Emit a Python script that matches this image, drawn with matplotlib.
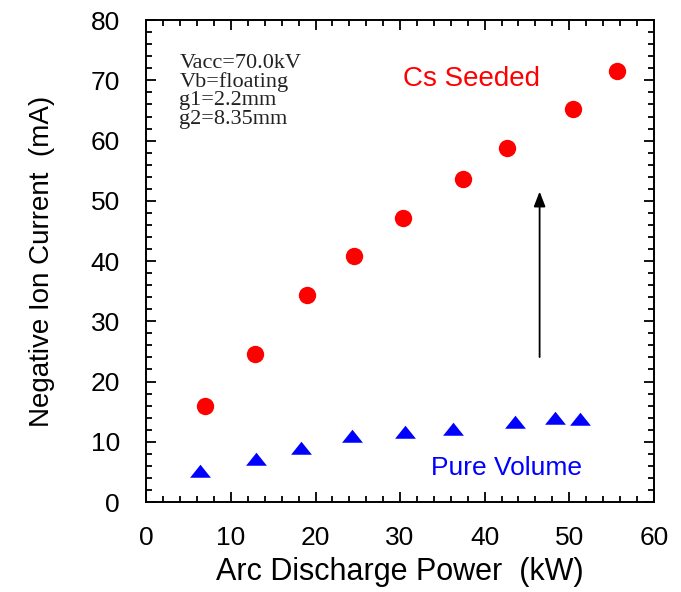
import matplotlib.pyplot as plt
from matplotlib.ticker import MultipleLocator

# Cs seeded operation
cs_power = [6.9, 12.9, 19.0, 24.6, 30.3, 37.4, 42.7, 50.4, 55.7]
cs_current = [16.0, 24.5, 34.4, 40.9, 47.2, 53.6, 58.8, 65.2, 71.6]

# pure volume operation
pv_power = [6.3, 13.0, 18.3, 24.3, 30.6, 36.3, 43.6, 48.3, 51.3]
pv_current = [5.1, 7.2, 9.0, 11.0, 11.6, 12.1, 13.3, 13.9, 13.7]

conditions = ['Vacc=70.0kV', 'Vb=floating', 'g1=2.2mm', 'g2=8.35mm']

plt.rcParams['font.family'] = 'Liberation Sans'

fig = plt.figure(figsize=(6.81, 5.92), dpi=100)
ax = fig.add_axes([0.215, 0.152, 0.745, 0.814])

tri = [(-1, -0.6), (1, -0.6), (0, 0.65), (-1, -0.6)]

ax.plot(cs_power, cs_current, 'o', color='#ff0000', markersize=12.5, markeredgewidth=0)
ax.plot(pv_power, pv_current, marker=tri, linestyle='none', color='#0000ff',
        markersize=15, markeredgewidth=0)

ax.annotate('', xy=(46.5, 52.0), xytext=(46.5, 23.6),
            arrowprops=dict(arrowstyle='-|>,head_length=0.9,head_width=0.35',
                            color='black', lw=1.3))

ax.text(30.3, 70.3, 'Cs Seeded', color='#ff0000', fontsize=20, va='center', ha='left')
ax.text(33.6, 5.6, 'Pure Volume', color='#0000ff', fontsize=19, va='center', ha='left')
ax.text(3.9, 74.4, '\n'.join(conditions), family='Liberation Serif', fontsize=16,
        va='top', ha='left', linespacing=0.95, color='#222222')

ax.set_xlim(0, 60)
ax.set_ylim(0, 80)
ax.xaxis.set_major_locator(MultipleLocator(10))
ax.xaxis.set_minor_locator(MultipleLocator(2))
ax.yaxis.set_major_locator(MultipleLocator(10))
ax.yaxis.set_minor_locator(MultipleLocator(2))
ax.tick_params(which='both', direction='in', top=True, right=True, labelsize=19, width=1.3)
ax.tick_params(which='major', length=7, pad=17)
ax.tick_params(axis='y', which='major', pad=19)
ax.tick_params(which='minor', length=4)
for s in ax.spines.values():
    s.set_linewidth(1.4)

ax.set_xlabel('Arc Discharge Power  (kW)', fontsize=22, labelpad=5)
ax.set_ylabel('Negative Ion Current  (mA)', fontsize=20, labelpad=26)

fig.savefig('out.png', dpi=100)
